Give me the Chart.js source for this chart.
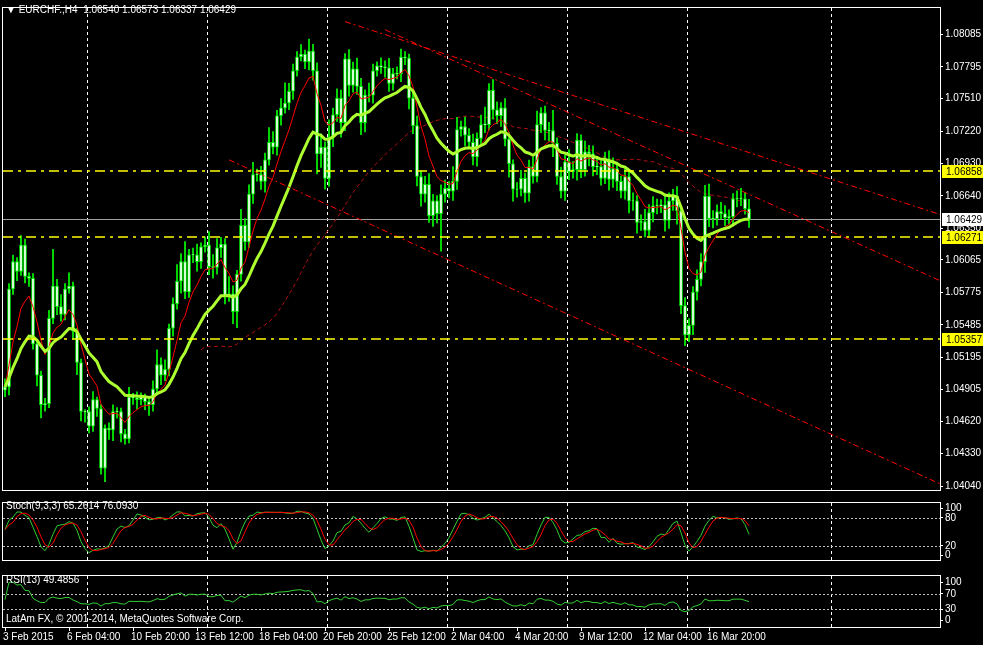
<!DOCTYPE html>
<html><head><meta charset="utf-8">
<script src="https://cdn.jsdelivr.net/npm/chart.js@4"></script>
<style>
html,body{margin:0;padding:0;background:#000;width:983px;height:645px;overflow:hidden}
canvas{position:absolute;left:0}
</style></head><body>
<canvas id="m" style="top:0" width="983" height="498"></canvas>
<canvas id="s" style="top:495px" width="983" height="73"></canvas>
<canvas id="r" style="top:568px" width="983" height="77"></canvas>
<script>
const firstOpen = 1.04900;
const closes = [1.04928,1.05805,1.06050,1.05963,1.06199,1.05919,1.05901,1.05314,1.05033,1.04770,1.04779,1.05542,1.05831,1.05647,1.05577,1.05805,1.05831,1.05428,1.05147,1.04708,1.04708,1.04577,1.04814,1.04735,1.04200,1.04559,1.04542,1.04708,1.04708,1.04507,1.04463,1.04840,1.04831,1.04814,1.04840,1.04796,1.04770,1.04910,1.05129,1.05033,1.05086,1.05454,1.05673,1.05875,1.06050,1.05778,1.06112,1.06112,1.06050,1.06182,1.06199,1.06006,1.05998,1.06173,1.06208,1.05743,1.05761,1.05603,1.05936,1.06375,1.06226,1.06655,1.06831,1.06831,1.06769,1.06962,1.07120,1.07076,1.07357,1.07427,1.07471,1.07576,1.07760,1.07883,1.07910,1.07839,1.07936,1.07760,1.07015,1.07076,1.06796,1.07164,1.07366,1.07515,1.07296,1.07866,1.07629,1.07778,1.07620,1.07296,1.07541,1.07541,1.07760,1.07804,1.07795,1.07787,1.07646,1.07734,1.07734,1.07883,1.07874,1.07515,1.07269,1.06813,1.06655,1.06743,1.06462,1.06594,1.06480,1.06655,1.06708,1.06682,1.06769,1.07234,1.07261,1.07182,1.07120,1.06989,1.07155,1.07278,1.07278,1.07585,1.07410,1.07357,1.07427,1.07147,1.06927,1.06699,1.06699,1.06796,1.06664,1.06901,1.06813,1.07278,1.07383,1.07225,1.07225,1.07111,1.06813,1.06682,1.06945,1.06857,1.06875,1.07138,1.06875,1.07033,1.07015,1.06901,1.06901,1.06796,1.06971,1.06787,1.06883,1.06769,1.06682,1.06813,1.06594,1.06594,1.06401,1.06410,1.06331,1.06489,1.06550,1.06550,1.06559,1.06419,1.06594,1.06638,1.06506,1.05656,1.05393,1.05480,1.05778,1.05892,1.06050,1.06638,1.06436,1.06436,1.06498,1.06480,1.06445,1.06454,1.06612,1.06612,1.06612,1.06524,1.06429];
// wick lengths in pips above body top / below body bottom
const upWick = [12,8,10,6,14,9,5,7,4,6,8,12,55,10,18,8,20,6,4,5,3,7,12,4,6,5,8,10,6,5,7,14,5,9,6,4,8,12,22,10,14,6,9,25,12,30,8,10,16,6,12,20,18,14,10,8,26,12,6,24,10,14,18,8,12,10,22,16,8,14,30,12,10,8,14,6,18,10,12,20,8,26,10,14,12,8,14,10,16,12,8,18,10,6,12,9,14,8,10,12,8,6,10,14,8,12,16,10,8,14,12,10,22,18,8,14,10,12,8,14,26,10,16,12,8,14,10,6,10,12,8,10,14,20,8,10,12,30,8,14,10,18,12,10,8,16,10,12,14,8,10,12,16,10,8,14,10,12,8,10,18,12,14,10,8,16,12,10,14,8,12,10,8,14,12,16,18,12,10,14,12,10,8,12,16,10,14,10,12];
const dnWick = [10,12,8,14,6,10,12,8,16,20,10,6,8,12,10,8,6,12,18,14,16,10,8,12,9,20,14,16,10,12,8,6,10,14,8,12,16,10,6,14,8,10,12,8,18,10,8,12,14,10,8,12,16,10,14,12,8,18,24,10,12,8,14,10,12,16,8,10,12,14,8,10,12,8,6,10,12,14,30,20,16,12,14,10,22,12,16,10,12,18,14,10,12,8,10,14,12,10,8,12,10,16,12,14,18,12,10,16,14,56,12,10,14,12,10,16,8,12,14,10,12,8,14,12,16,10,20,18,12,10,14,12,10,8,12,14,16,20,12,10,14,12,10,16,12,10,18,14,12,10,8,16,12,14,10,12,18,14,16,12,10,8,14,12,10,16,12,14,20,12,16,10,14,12,10,16,12,14,10,8,12,10,14,12,10,8,12];
const dateLabels = ["3 Feb 2015","6 Feb 04:00","10 Feb 20:00","13 Feb 12:00","18 Feb 04:00","20 Feb 20:00","25 Feb 12:00","2 Mar 04:00","4 Mar 20:00","9 Mar 12:00","12 Mar 04:00","16 Mar 20:00"];
const dateBars = [0,16,32,48,64,80,96,112,128,144,160,176];
const gridBars = [20.5,50.5,80.5,110.5,140.5,170.5,206.5];
const priceTicks = [1.08085,1.07795,1.07510,1.07220,1.06930,1.06640,1.06350,1.06065,1.05775,1.05485,1.05195,1.04905,1.04620,1.04330,1.04040];
const hLevels = [1.06858,1.06271,1.05357];
const bidPrice = 1.06429;
// trend lines: [bar1, price1, bar2, price2]
const trendLines = [[85,1.08200,233.75,1.06473],[95,1.08128,233.75,1.05880],[56,1.06962,233.75,1.04060]];

const N = closes.length;
const opens = closes.map((c,i)=> i===0?firstOpen:closes[i-1]);
const highs = closes.map((c,i)=> Math.max(c,opens[i]) + upWick[i]*0.0001*0.6);
const lows = closes.map((c,i)=> Math.min(c,opens[i]) - dnWick[i]*0.0001*0.6);
function ema(arr,p){const k=2/(p+1);let out=[];let v=arr[0];arr.forEach((x,i)=>{v=i?x*k+v*(1-k):x;out.push(v)});return out;}
function sma(arr,p){return arr.map((x,i)=>{if(i<p-1)return null;let s=0;for(let j=i-p+1;j<=i;j++)s+=arr[j];return s/p;});}
const maFast = ema(closes,8), maMid = ema(closes,21), maSlow = sma(closes,50);
const rawK = closes.map((c,i)=>{let a=Math.max(0,i-8);let hh=-1e9,ll=1e9;for(let j=a;j<=i;j++){hh=Math.max(hh,highs[j]);ll=Math.min(ll,lows[j]);}return hh===ll?50:(c-ll)/(hh-ll)*100;});
function avgP(arr,p){return arr.map((x,i)=>{let a=Math.max(0,i-p+1),s=0;for(let j=a;j<=i;j++)s+=arr[j];return s/(i-a+1);});}
const stK = avgP(rawK,3), stD = avgP(stK,3);
const rsi=[];{let ag=0,al=0;closes.forEach((c,i)=>{if(i===0){rsi.push(55);return;}const d=c-closes[i-1];const g=Math.max(d,0),l=Math.max(-d,0);if(i<=13){ag=(ag*(i-1)+g)/i;al=(al*(i-1)+l)/i;}else{ag=(ag*12+g)/13;al=(al*12+l)/13;}rsi.push(al===0?100:100-100/(1+ag/al));});}

const XMIN=-0.5, XMAX=233.75;
const FONT='10px "Liberation Sans", Arial, sans-serif';
Chart.defaults.animation=false;
Chart.defaults.font.family='"Liberation Sans", Arial, sans-serif';
Chart.defaults.font.size=10;

const frame = {id:'frame',beforeDatasetsDraw(c){const {ctx,chartArea:a}=c;ctx.save();ctx.strokeStyle='#fff';ctx.setLineDash([3,3]);ctx.lineWidth=1;
  gridBars.forEach(b=>{const x=Math.round(c.scales.x.getPixelForValue(b))+0.5;ctx.beginPath();ctx.moveTo(x,a.top);ctx.lineTo(x,a.bottom);ctx.stroke();});ctx.restore();},
 afterDraw(c){const {ctx,chartArea:a}=c;ctx.save();ctx.strokeStyle='#fff';ctx.lineWidth=1;ctx.strokeRect(a.left-0.5,a.top-0.5,a.right-a.left+1,a.bottom-a.top+1);ctx.restore();}};

function levelPlugin(levels){return {id:'lv',beforeDatasetsDraw(c){const {ctx,chartArea:a}=c;ctx.save();ctx.strokeStyle='#c0c0c0';ctx.setLineDash([2,2]);levels.forEach(v=>{const y=Math.round(c.scales.y.getPixelForValue(v))+0.5;ctx.beginPath();ctx.moveTo(a.left,y);ctx.lineTo(a.right,y);ctx.stroke();});ctx.restore();}};}
function textPlugin(items){return {id:'tx',afterDraw(c){const ctx=c.ctx;ctx.save();ctx.font=FONT;ctx.fillStyle='#fff';ctx.textBaseline='middle';items.forEach(t=>ctx.fillText(t[0],t[1],t[2]));ctx.restore();}};}

const xScale = {type:'linear',min:XMIN,max:XMAX,display:false,offset:false,bounds:'ticks'};
function yAxis(min,max,ticks,w){return {position:'right',min,max,afterBuildTicks(s){s.ticks=ticks.map(v=>({value:v}));},
  afterFit(s){s.width=w;},grid:{drawOnChartArea:false,color:'#fff',tickLength:3},border:{color:'#fff'},
  ticks:{color:'#fff',padding:2,font:{size:10},autoSkip:false,callback:v=>ticks===priceTicks?v.toFixed(5):String(v)}};}

const levelLines={id:'hl',afterDatasetsDraw(c){const {ctx,chartArea:a}=c;const y=c.scales.y;ctx.save();
  ctx.strokeStyle='rgb(255,255,0)';ctx.lineWidth=1.5;ctx.setLineDash([10,5,3,5]);
  hLevels.forEach(v=>{const p=Math.round(y.getPixelForValue(v));ctx.beginPath();ctx.moveTo(a.left,p);ctx.lineTo(a.right,p);ctx.stroke();});
  ctx.restore();},
 beforeDatasetsDraw(c){const {ctx,chartArea:a}=c;const y=c.scales.y;ctx.save();ctx.strokeStyle='#a0a0a0';ctx.lineWidth=1;const p=Math.round(y.getPixelForValue(bidPrice))+0.5;ctx.beginPath();ctx.moveTo(a.left,p);ctx.lineTo(a.right,p);ctx.stroke();ctx.restore();},
 afterDraw(c){const {ctx,chartArea:a}=c;const y=c.scales.y;ctx.save();ctx.font=FONT;ctx.textBaseline='middle';
  const box=(v,bg)=>{const p=Math.round(y.getPixelForValue(v));ctx.fillStyle=bg;ctx.fillRect(a.right+2,p-6,42,13);ctx.fillStyle='#000';ctx.fillText(v.toFixed(5),a.right+6,p+1);};
  hLevels.forEach(v=>box(v,'#ffff00'));box(bidPrice,'#ffffff');ctx.restore();}};
const mainPlugins=[frame,levelLines,textPlugin([["\u25BC EURCHF.,H4  1.06540 1.06573 1.06337 1.06429",6,10]])];

const idx=closes.map((_,i)=>i);
new Chart(document.getElementById('m'),{type:'line',data:{datasets:[
 {type:'line',data:idx.map(i=>({x:i,y:maSlow[i]})),borderColor:'#b01010',borderWidth:1,borderDash:[4,3],pointRadius:0,spanGaps:false,order:5},
 {type:'bar',data:idx.map(i=>({x:i,y:[lows[i],highs[i]]})),backgroundColor:'#00ff00',barThickness:1,grouped:false,order:4},
 {type:'bar',data:idx.map(i=>({x:i,y:[opens[i],closes[i]===opens[i]?closes[i]+0.00002:closes[i]]})),backgroundColor:'#ffffff',borderColor:'#00ff00',borderWidth:1,borderSkipped:false,barThickness:3,grouped:false,order:3},
 {type:'line',data:idx.map(i=>({x:i,y:maFast[i]})),borderColor:'#ff0000',borderWidth:1,pointRadius:0,order:2},
 {type:'line',data:idx.map(i=>({x:i,y:maMid[i]})),borderColor:'#adff2f',borderWidth:3,pointRadius:0,order:1},
 ...trendLines.map(t=>({type:'line',data:[{x:t[0],y:t[1]},{x:t[2],y:t[3]}],borderColor:'#ff0000',borderWidth:1,borderDash:[6,3,2,3],pointRadius:0,order:0}))
]},options:{responsive:false,layout:{padding:{left:3,top:3,bottom:3,right:0}},plugins:{legend:{display:false},tooltip:{enabled:false}},
 scales:{x:xScale,y:yAxis(1.04005,1.08322,priceTicks,43)}},plugins:mainPlugins});

new Chart(document.getElementById('s'),{type:'line',data:{datasets:[
 {data:idx.map(i=>({x:i,y:stD[i]})),borderColor:'#ff0000',borderWidth:1,pointRadius:0},
 {data:idx.map(i=>({x:i,y:stK[i]})),borderColor:'#32cd32',borderWidth:1,pointRadius:0}
]},options:{responsive:false,layout:{padding:{left:3,top:2,bottom:1,right:0}},plugins:{legend:{display:false},tooltip:{enabled:false}},
 scales:{x:xScale,y:yAxis(-10.5,112.3,[100,80,20,0],43)}},plugins:[frame,levelPlugin([80,20]),textPlugin([["Stoch(9,3,3) 65.2614 76.0930",6,11]])]});

new Chart(document.getElementById('r'),{type:'line',data:{datasets:[
 {data:idx.map(i=>({x:i,y:rsi[i]})),borderColor:'#32cd32',borderWidth:1,pointRadius:0}
]},options:{responsive:false,layout:{padding:{left:3,top:2,bottom:18,right:0}},plugins:{legend:{display:false},tooltip:{enabled:false}},
 scales:{x:xScale,y:yAxis(-16.3,116.3,[100,70,30,0],43)}},plugins:[frame,levelPlugin([70,30]),
 textPlugin([["RSI(13) 49.4856",6,12],["LatAm FX, \u00A9 2001-2014, MetaQuotes Software Corp.",6,51]]),
 {id:'dates',afterDraw(c){const ctx=c.ctx;ctx.save();ctx.font=FONT;ctx.fillStyle='#fff';ctx.textBaseline='middle';ctx.strokeStyle='#fff';
  dateBars.forEach((b,k)=>{const x=Math.round(c.scales.x.getPixelForValue(b));ctx.beginPath();ctx.moveTo(x+0.5,c.chartArea.bottom);ctx.lineTo(x+0.5,c.chartArea.bottom+4);ctx.stroke();ctx.fillText(dateLabels[k],x-2,69);});ctx.restore();}}]});
</script></body></html>
